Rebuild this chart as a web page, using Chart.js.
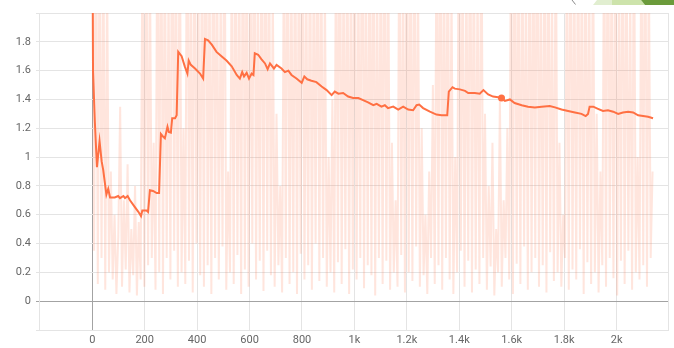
<!DOCTYPE html>
<html>
<head>
<meta charset="utf-8">
<script src="https://cdn.jsdelivr.net/npm/chart.js@4.4.1/dist/chart.umd.min.js"></script>
<style>
  html, body { margin: 0; padding: 0; background: #fff; overflow: hidden; }
  #wrap { width: 674px; height: 348px; position: relative; }
</style>
</head>
<body>
<div id="wrap"><canvas id="c" width="674" height="348"></canvas></div>
<script>
// Raw scalar, logged every RAW_STEP steps
const RAW_STEP = 7.1;
const RAW_VALUES = [
  3.2, 0.35, 3.1, 0.12, 2.8, 0.3, 2.5, 0.08, 2.3, 0.2,
  0.9, 0.15, 0.6, 0.05, 0.45, 1.35, 0.1, 0.7, 0.22, 0.95,
  0.06, 0.5, 0.18, 0.8, 0.04, 0.55, 0.15, 2.6, 0.1, 3.0,
  0.25, 2.4, 0.3, 1.1, 0.08, 2.9, 0.2, 3.3, 0.05, 2.7,
  0.3, 2.2, 0.15, 3.5, 0.35, 2.6, 0.1, 2.9, 0.2, 1.2,
  0.12, 3.4, 0.28, 2.5, 0.06, 3.0, 0.4, 2.3, 0.18, 2.8,
  0.1, 3.6, 0.25, 2.4, 0.05, 3.1, 0.3, 2.7, 0.15, 2.2,
  0.38, 3.2, 0.08, 0.9, 0.2, 2.6, 0.12, 3.0, 0.32, 2.4,
  0.05, 3.3, 0.22, 2.8, 0.1, 2.5, 0.4, 3.5, 0.15, 2.3,
  0.28, 2.9, 0.07, 3.1, 0.35, 2.6, 0.18, 2.2, 0.1, 1.3,
  0.25, 0.8, 0.06, 2.7, 0.3, 3.2, 0.12, 2.4, 0.2, 3.0,
  0.05, 2.6, 0.33, 3.4, 0.15, 2.3, 0.25, 2.9, 0.08, 2.5,
  0.4, 3.1, 0.14, 2.7, 0.3, 2.2, 0.1, 1.0, 0.2, 1.4,
  0.06, 2.8, 0.27, 3.3, 0.12, 2.4, 0.36, 2.9, 0.05, 2.6,
  0.22, 3.0, 0.15, 2.3, 0.3, 3.5, 0.09, 2.5, 0.25, 2.8,
  0.18, 3.1, 0.04, 2.4, 0.3, 2.7, 0.12, 3.2, 0.28, 2.5,
  0.08, 1.1, 0.2, 0.7, 0.1, 2.9, 0.32, 2.4, 0.06, 3.3,
  0.2, 2.6, 0.14, 3.0, 0.38, 2.3, 0.1, 1.2, 0.18, 0.6,
  0.05, 0.9, 0.3, 1.5, 0.12, 2.8, 0.25, 3.4, 0.08, 2.5,
  0.3, 2.9, 0.15, 2.2, 0.05, 1.0, 0.2, 3.1, 0.35, 2.6,
  0.1, 2.4, 0.28, 3.2, 0.06, 2.7, 0.22, 2.3, 0.12, 3.0,
  0.3, 1.3, 0.08, 0.8, 0.24, 1.1, 0.04, 0.5, 0.2, 1.4,
  0.1, 0.7, 0.3, 1.2, 0.15, 2.8, 0.05, 3.3, 0.26, 2.5,
  0.12, 2.9, 0.38, 2.3, 0.08, 3.1, 0.2, 2.6, 0.3, 3.5,
  0.1, 2.4, 0.25, 2.7, 0.06, 3.0, 0.34, 2.2, 0.14, 2.8,
  0.2, 1.1, 0.1, 0.6, 0.3, 2.6, 0.08, 3.2, 0.22, 2.4,
  0.15, 2.9, 0.36, 2.5, 0.05, 3.0, 0.27, 2.3, 0.12, 2.7,
  0.2, 1.3, 0.06, 0.9, 0.25, 2.8, 0.1, 3.3, 0.3, 2.5,
  0.16, 2.9, 0.04, 2.4, 0.28, 3.1, 0.12, 2.6, 0.35, 2.2,
  0.08, 2.9, 0.2, 1.0, 0.15, 2.7, 0.25, 3.2, 0.1, 2.4,
  0.3, 0.9
];

// Smoothed curve (step, value)
const SMOOTH_STEPS = [
  0, 3, 10, 18, 28, 36, 42, 54, 61, 68, 86, 99, 106, 119, 125, 135, 144, 162, 176, 186,
  191, 207, 213, 220, 232, 246, 255, 262, 271, 277, 287, 292, 300, 305, 316, 322, 328, 341, 353, 363,
  368, 376, 392, 411, 423, 430, 442, 456, 474, 493, 512, 532, 551, 563, 572, 579, 589, 598, 608, 615,
  620, 633, 645, 659, 669, 678, 693, 703, 722, 735, 748, 760, 779, 799, 809, 820, 836, 855, 875, 894,
  913, 925, 939, 957, 976, 995, 1015, 1033, 1052, 1072, 1085, 1103, 1116, 1128, 1148, 1167, 1186, 1205, 1224, 1237,
  1247, 1262, 1288, 1313, 1332, 1354, 1360, 1374, 1383, 1402, 1422, 1434, 1459, 1478, 1492, 1510, 1529, 1548, 1561, 1574,
  1593, 1611, 1638, 1662, 1688, 1714, 1745, 1765, 1790, 1815, 1841, 1866, 1882, 1891, 1897, 1911, 1929, 1948, 1967, 1987,
  2006, 2024, 2044, 2063, 2082, 2101, 2120, 2139
];
const SMOOTH_VALUES = [
  3.0, 1.6, 1.245, 0.93, 1.11, 0.97, 0.91, 0.74, 0.78, 0.72, 0.72, 0.73, 0.715, 0.73, 0.715, 0.73, 0.70, 0.655, 0.62, 0.59,
  0.63, 0.63, 0.62, 0.77, 0.765, 0.75, 0.75, 1.16, 1.14, 1.13, 1.21, 1.175, 1.17, 1.27, 1.27, 1.29, 1.73, 1.70, 1.63, 1.58,
  1.67, 1.64, 1.615, 1.58, 1.545, 1.82, 1.81, 1.78, 1.73, 1.70, 1.67, 1.63, 1.57, 1.545, 1.59, 1.56, 1.585, 1.545, 1.58, 1.57,
  1.72, 1.71, 1.68, 1.65, 1.61, 1.65, 1.615, 1.64, 1.615, 1.59, 1.60, 1.57, 1.545, 1.515, 1.56, 1.54, 1.53, 1.52, 1.49, 1.465,
  1.43, 1.455, 1.44, 1.445, 1.42, 1.41, 1.41, 1.395, 1.38, 1.36, 1.37, 1.35, 1.36, 1.34, 1.35, 1.33, 1.35, 1.33, 1.325, 1.36,
  1.365, 1.34, 1.315, 1.295, 1.29, 1.29, 1.455, 1.485, 1.475, 1.47, 1.46, 1.445, 1.445, 1.44, 1.465, 1.435, 1.42, 1.415, 1.41, 1.39,
  1.40, 1.375, 1.36, 1.35, 1.345, 1.35, 1.355, 1.345, 1.33, 1.32, 1.31, 1.30, 1.285, 1.30, 1.35, 1.35, 1.335, 1.32, 1.325, 1.315,
  1.30, 1.31, 1.315, 1.31, 1.29, 1.285, 1.28, 1.27
];
const HOVER_STEP = 1561;

const X_TICKS = [0, 200, 400, 600, 800, 1000, 1200, 1400, 1600, 1800, 2000];
const X_TICK_LABELS = ['0', '200', '400', '600', '800', '1k', '1.2k', '1.4k', '1.6k', '1.8k', '2k'];
const Y_TICKS = [0, 0.2, 0.4, 0.6, 0.8, 1, 1.2, 1.4, 1.6, 1.8];
const Y_TICK_LABELS = ['0', '0.2', '0.4', '0.6', '0.8', '1', '1.2', '1.4', '1.6', '1.8'];

const X_MIN = -203, X_MAX = 2196;
const Y_MIN = -0.2, Y_MAX = 2.0;

const LINE_COLOR = '#ff7043';
const GRID = '#e4e4e4';
const ZERO = '#a3a3a3';

const rawPoints = RAW_VALUES.map((v, i) => ({ x: i * RAW_STEP, y: v }));
const smoothPoints = SMOOTH_STEPS.map((s, i) => ({ x: s, y: SMOOTH_VALUES[i] }));

// little header strip in the top right corner
const headerStrip = {
  id: 'headerStrip',
  afterDraw(chart) {
    const c = chart.ctx;
    c.save();
    c.strokeStyle = '#8a8a8a';
    c.lineWidth = 1;
    c.beginPath();
    c.moveTo(572, 0);
    c.lineTo(575.5, 4.5);
    c.stroke();
    c.fillStyle = '#e1eed0';
    c.beginPath();
    c.moveTo(597, 0); c.lineTo(612, 0); c.lineTo(612, 5); c.lineTo(593, 5);
    c.closePath(); c.fill();
    c.fillStyle = '#cde3ab';
    c.beginPath();
    c.moveTo(612, 0); c.lineTo(641, 0); c.lineTo(645, 5); c.lineTo(612, 5);
    c.closePath(); c.fill();
    c.fillStyle = '#6b9b3b';
    c.beginPath();
    c.moveTo(641, 0); c.lineTo(674, 0); c.lineTo(674, 5); c.lineTo(645, 5);
    c.closePath(); c.fill();
    c.restore();
  }
};

const tickFont = { family: "'Liberation Sans Narrow', Roboto, sans-serif", size: 11 };

new Chart(document.getElementById('c'), {
  type: 'line',
  data: {
    datasets: [
      {
        label: 'smoothed',
        data: smoothPoints,
        borderColor: LINE_COLOR,
        backgroundColor: LINE_COLOR,
        borderWidth: 2,
        pointRadius: ctx => (SMOOTH_STEPS[ctx.dataIndex] === HOVER_STEP ? 3.5 : 0),
        pointBorderWidth: 0,
        tension: 0,
        order: 1
      },
      {
        label: 'raw',
        data: rawPoints,
        borderColor: 'rgba(255,112,67,0.18)',
        borderWidth: 2,
        pointRadius: 0,
        tension: 0,
        order: 2
      }
    ]
  },
  options: {
    responsive: false,
    animation: false,
    devicePixelRatio: 1,
    layout: { padding: { top: 13, right: 6, left: 0, bottom: 0 } },
    plugins: { legend: { display: false }, tooltip: { enabled: false } },
    scales: {
      x: {
        type: 'linear',
        min: X_MIN,
        max: X_MAX,
        afterBuildTicks: axis => {
          axis.ticks = [X_MIN, ...X_TICKS, X_MAX].map(v => ({ value: v }));
        },
        afterFit: axis => { axis.height = 18; },
        ticks: {
          autoSkip: false,
          maxRotation: 0,
          padding: 4,
          color: '#666',
          font: tickFont,
          callback: v => {
            const i = X_TICKS.indexOf(v);
            return i >= 0 ? X_TICK_LABELS[i] : '';
          }
        },
        grid: {
          drawTicks: false,
          color: ctx => (ctx.tick && ctx.tick.value === 0 ? ZERO : GRID),
          lineWidth: 1
        },
        border: { display: true, color: GRID }
      },
      y: {
        type: 'linear',
        min: Y_MIN,
        max: Y_MAX,
        afterBuildTicks: axis => {
          axis.ticks = [Y_MIN, ...Y_TICKS, Y_MAX].map(v => ({ value: v }));
        },
        afterFit: axis => { axis.width = 39; },
        ticks: {
          autoSkip: false,
          padding: 5,
          color: '#666',
          font: tickFont,
          callback: v => {
            const i = Y_TICKS.indexOf(v);
            return i >= 0 ? Y_TICK_LABELS[i] : '';
          }
        },
        grid: {
          drawTicks: true,
          tickLength: 3,
          color: ctx => (ctx.tick && ctx.tick.value === 0 ? ZERO : GRID),
          lineWidth: 1
        },
        border: { display: true, color: GRID }
      }
    }
  },
  plugins: [headerStrip]
});
</script>
</body>
</html>
